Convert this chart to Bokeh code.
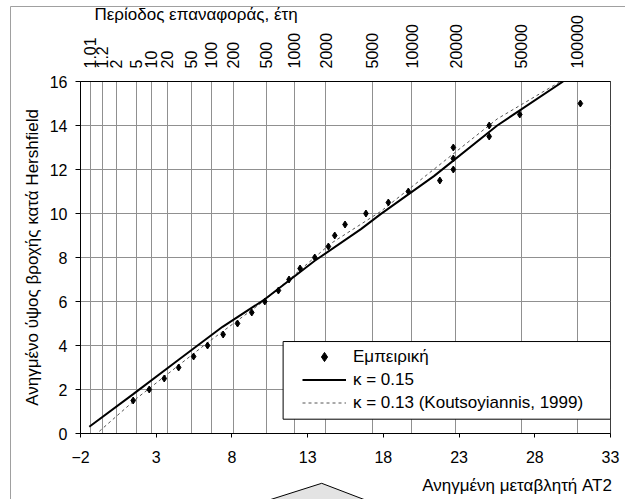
from bokeh.plotting import figure
from bokeh.models import (LinearAxis, FixedTicker, Grid, Legend, LegendItem, Title,
                          BoxAnnotation, Range1d)
from bokeh.embed import file_html
from bokeh.resources import INLINE

FONT = "Liberation Sans"

# ---- data ----
x_ticks = [-2, 3, 8, 13, 18, 23, 28, 33]
y_ticks = [0, 2, 4, 6, 8, 10, 12, 14, 16]

# return periods (top axis) and their position on the reduced-variate axis
top_tick_labels = ["1.01", "1.2", "2", "5", "10", "20", "50", "100", "200", "500",
                   "1000", "2000", "5000", "10000", "20000", "50000", "100000"]
top_tick_pos = [-1.367, -0.558, 0.377, 1.682, 2.677, 3.742, 5.304, 6.625, 8.087,
                10.265, 12.121, 14.180, 17.253, 19.874, 22.780, 27.119, 30.820]

emp_x = [1.48, 2.54, 3.53, 4.48, 5.47, 6.39, 7.42, 8.37, 9.31, 10.17, 11.07, 11.77,
         12.50, 13.47, 14.37, 14.79, 15.47, 16.85, 18.33, 19.65, 21.73, 22.62, 22.62,
         22.62, 24.99, 24.99, 27.01, 31.01]
emp_y = [1.5, 2.0, 2.5, 3.0, 3.5, 4.0, 4.5, 5.0, 5.5, 6.0, 6.5, 7.0, 7.5, 8.0, 8.5,
         9.0, 9.5, 10.0, 10.5, 11.0, 11.5, 12.0, 12.5, 13.0, 13.5, 14.0, 14.5, 15.0]

k15_x = [-1.42, 1.48, 4.48, 7.38, 10.17, 13.47, 16.52, 17.82, 21.34, 25.52, 29.87]
k15_y = [0.31, 1.79, 3.35, 4.85, 6.10, 7.85, 9.29, 9.97, 11.70, 14.00, 16.00]

k13_x = [-1.35, 1.77, 6.39, 10.17, 14.52, 17.82, 21.34, 25.52, 29.70]
k13_y = [-0.26, 1.63, 4.13, 6.05, 8.63, 10.09, 12.01, 14.30, 16.00]

labels = ["Εμπειρική", "κ = 0.15", "κ = 0.13 (Koutsoyiannis, 1999)"]

top_title = "Περίοδος επαναφοράς, έτη"
bottom_title = "Ανηγμένη μεταβλητή AT2"
bottom_title_at = 26.83  # x position (reduced variate) of the bottom title's centre

# ---- page decoration (outer chart border and the cut-off callout below) ----
deco_svg = ("<svg xmlns='http://www.w3.org/2000/svg' width='625' height='499'>"
            "<path d='M10.5 499 V6.5 H625' fill='none' stroke='%23a0a0a0' stroke-width='1'/>"
            "<polygon points='266,501 321.7,483.3 368,501' fill='%23e3e3e3' "
            "stroke='black' stroke-width='1'/></svg>")

# ---- figure ----
p = figure(width=625, height=499, output_backend="svg", toolbar_location=None,
           x_range=Range1d(-2, 33), y_range=Range1d(0, 16),
           min_border_left=80, min_border_right=15, min_border_top=81,
           min_border_bottom=66, background_fill_color="white",
           border_fill_color="white", border_fill_alpha=0)
p.styles = {"background-color": "white",
            "background-image": 'url("data:image/svg+xml;utf8,' + deco_svg + '")',
            "background-repeat": "no-repeat"}
p.outline_line_color = "#404040"

GRID = "#909090"
p.xgrid.visible = False
p.ygrid.ticker = FixedTicker(ticks=y_ticks)
p.ygrid.grid_line_color = GRID

for ax in (p.xaxis[0], p.yaxis[0]):
    ax.axis_line_color = "black"
    ax.major_tick_line_color = "black"
    ax.major_tick_in = 0
    ax.minor_tick_line_color = None
    ax.major_label_text_font = FONT
    ax.major_label_text_font_size = "16px"
    ax.major_label_text_color = "black"

p.xaxis.ticker = FixedTicker(ticks=x_ticks)
p.xaxis.major_tick_out = 4
p.xaxis.major_label_standoff = 13

p.yaxis.ticker = FixedTicker(ticks=y_ticks)
p.yaxis.major_tick_out = 5
p.yaxis.major_label_standoff = 8
p.yaxis.axis_label = "Ανηγμένο ύψος βροχής κατά Hershfield"
p.yaxis.axis_label_text_font = FONT
p.yaxis.axis_label_text_font_size = "17px"
p.yaxis.axis_label_text_font_style = "normal"
p.yaxis.axis_label_text_color = "black"
p.yaxis.axis_label_standoff = 5

top = LinearAxis(ticker=FixedTicker(ticks=top_tick_pos),
                 major_label_overrides=dict(zip(top_tick_pos, top_tick_labels)),
                 major_label_orientation="vertical",
                 major_label_text_font=FONT, major_label_text_font_size="16px",
                 major_label_text_color="black", major_label_standoff=7,
                 major_tick_line_color=None, minor_tick_line_color=None,
                 axis_line_color="black")
p.add_layout(top, "above")

p.add_layout(Title(text=top_title, align="left", offset=14, standoff=-22,
                   text_font=FONT, text_font_size="17px", text_font_style="normal",
                   text_color="black"), "above")

# bottom axis title placed as a single-label axis so it can sit right-aligned
bottom_title_axis = LinearAxis(ticker=FixedTicker(ticks=[bottom_title_at]),
                               major_label_overrides={bottom_title_at: bottom_title},
                               major_label_text_font=FONT, major_label_text_font_size="17px",
                               major_label_text_color="black", major_label_standoff=4,
                               major_tick_line_color=None, minor_tick_line_color=None,
                               axis_line_color=None)
p.add_layout(bottom_title_axis, "below")

p.add_layout(Grid(dimension=0, ticker=FixedTicker(ticks=top_tick_pos),
                  grid_line_color=GRID))

# ---- series ----
r13 = p.line(k13_x, k13_y, line_color="#555555", line_width=1, line_dash="3 3")
r15 = p.line(k15_x, k15_y, line_color="black", line_width=2)
r_emp = p.scatter(emp_x, emp_y, marker="diamond", size=7, color="black")

# ---- legend ----
box = BoxAnnotation(left=11.38, right=33.0, bottom=0.65, top=4.18,
                    fill_color="white", fill_alpha=1.0,
                    line_color="black", line_alpha=1.0, line_width=1)
p.add_layout(box)

legend = Legend(items=[LegendItem(label=labels[0], renderers=[r_emp]),
                       LegendItem(label=labels[1], renderers=[r15]),
                       LegendItem(label=labels[2], renderers=[r13])],
                location=(222, 19), padding=0, spacing=0, margin=0,
                glyph_width=44, glyph_height=23, label_height=23, label_standoff=7,
                label_text_font=FONT, label_text_font_size="17px",
                label_text_color="black",
                border_line_color=None, background_fill_alpha=0)
p.add_layout(legend)

open("out.html", "w", encoding="utf-8").write(file_html(p, INLINE))
